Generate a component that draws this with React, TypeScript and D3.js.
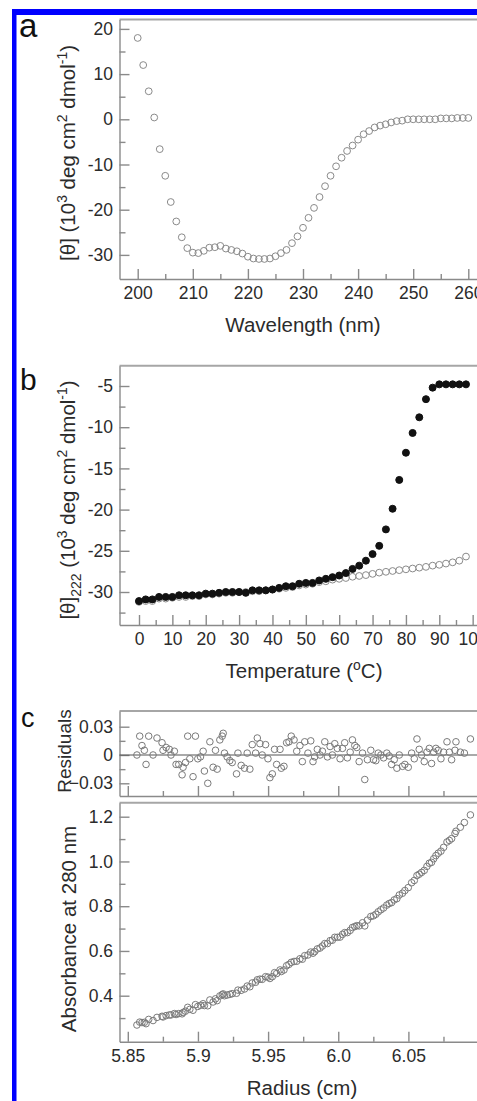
import React, { useEffect, useRef } from 'react';
import * as d3 from 'd3';

const WIDTH = 477;
const HEIGHT = 1101;
const FONT = '"Liberation Sans", Arial, Helvetica, sans-serif';
const TEXT = '#2b2b2b';
const AXIS = '#8a8a8a';

// (a) far-UV CD spectrum
const wavelength = [
  200, 201, 202, 203, 204, 205, 206, 207, 208, 209, 210, 211, 212, 213, 214, 215, 216, 217, 218, 219,
  220, 221, 222, 223, 224, 225, 226, 227, 228, 229, 230, 231, 232, 233, 234, 235, 236, 237, 238, 239,
  240, 241, 242, 243, 244, 245, 246, 247, 248, 249, 250, 251, 252, 253, 254, 255, 256, 257, 258, 259, 260,
];
const theta = [
  18.0, 12.0, 6.2, 0.4, -6.6, -12.5, -18.3, -22.6, -26.1, -28.5, -29.5, -29.6, -29.1, -28.4, -28.3, -28.0, -28.6, -28.9, -29.2, -29.7,
  -30.4, -30.8, -30.9, -30.9, -30.8, -30.3, -29.6, -28.9, -27.4, -25.9, -24.0, -21.8, -19.6, -17.2, -14.8, -12.5, -10.4, -8.5, -7.0, -5.8,
  -4.5, -3.3, -2.6, -1.8, -1.4, -1.1, -0.7, -0.4, -0.3, 0.0, 0.0, 0.0, 0.0, 0.0, 0.0, 0.2, 0.2, 0.2, 0.3, 0.3, 0.3,
];

// (b) thermal unfolding at 222 nm
const temperature = [
  0, 2, 4, 6, 8, 10, 12, 14, 16, 18, 20, 22, 24, 26, 28, 30, 32, 34, 36, 38, 40, 42, 44, 46, 48,
  50, 52, 54, 56, 58, 60, 62, 64, 66, 68, 70, 72, 74, 76, 78, 80, 82, 84, 86, 88, 90, 92, 94, 96, 98,
];
const thetaFilled = [
  -31.1, -30.9, -30.9, -30.6, -30.6, -30.6, -30.4, -30.4, -30.4, -30.4, -30.2, -30.2, -30.1, -30.0, -30.0, -30.0, -30.1, -29.8, -29.8, -29.8, -29.7, -29.5, -29.3, -29.3, -29.0,
  -28.9, -28.9, -28.6, -28.4, -28.2, -28.0, -27.7, -27.2, -26.8, -26.2, -25.4, -24.4, -22.4, -19.9, -16.4, -13.1, -10.7, -8.8, -6.6, -5.2, -4.8, -4.8, -4.8, -4.8, -4.8,
];
const thetaOpen = [
  -31.2, -31.1, -31.1, -30.8, -30.8, -30.7, -30.6, -30.6, -30.5, -30.5, -30.3, -30.3, -30.2, -30.1, -30.1, -30.0, -30.0, -29.9, -29.9, -29.8, -29.7, -29.6, -29.5, -29.4, -29.2,
  -29.1, -29.0, -28.8, -28.7, -28.5, -28.4, -28.3, -28.15, -28.05, -27.95, -27.8, -27.65, -27.55, -27.45, -27.35, -27.25, -27.15, -27.05, -26.95, -26.8, -26.7, -26.55, -26.4, -26.2, -25.7,
];

// (c) sedimentation equilibrium
const radius = [
  5.8565, 5.8585, 5.8601, 5.8618, 5.8630, 5.8649, 5.8680, 5.8708, 5.8744, 5.8751,
  5.8773, 5.8796, 5.8808, 5.8832, 5.8844, 5.8863, 5.8887, 5.8894, 5.8911, 5.8927,
  5.8942, 5.8965, 5.8982, 5.8999, 5.9018, 5.9037, 5.9046, 5.9070, 5.9085, 5.9108,
  5.9125, 5.9137, 5.9156, 5.9173, 5.9180, 5.9189, 5.9208, 5.9227, 5.9244, 5.9275,
  5.9285, 5.9308, 5.9332, 5.9351, 5.9370, 5.9387, 5.9411, 5.9423, 5.9442, 5.9458,
  5.9482, 5.9499, 5.9513, 5.9530, 5.9546, 5.9561, 5.9585, 5.9594, 5.9613, 5.9632,
  5.9649, 5.9665, 5.9685, 5.9704, 5.9727, 5.9744, 5.9761, 5.9784, 5.9804, 5.9820,
  5.9832, 5.9851, 5.9870, 5.9887, 5.9904, 5.9923, 5.9942, 5.9958, 5.9975, 5.9994,
  6.0013, 6.0030, 6.0046, 6.0065, 6.0085, 6.0101, 6.0118, 6.0132, 6.0149, 6.0173,
  6.0189, 6.0208, 6.0232, 6.0251, 6.0268, 6.0285, 6.0304, 6.0323, 6.0346, 6.0363,
  6.0380, 6.0399, 6.0418, 6.0435, 6.0458, 6.0475, 6.0499, 6.0523, 6.0542, 6.0561,
  6.0577, 6.0594, 6.0613, 6.0632, 6.0649, 6.0665, 6.0680, 6.0696, 6.0713, 6.0732,
  6.0751, 6.0775, 6.0792, 6.0808, 6.0832, 6.0839, 6.0870, 6.0899, 6.0942,
];
const residuals = [
  0.000, 0.020, 0.010, 0.005, -0.010, 0.020, 0.000, 0.018, 0.013, 0.005,
  0.008, 0.006, 0.000, 0.004, -0.010, -0.010, -0.021, -0.013, -0.008, 0.020,
  -0.004, -0.023, 0.020, -0.004, -0.002, 0.004, -0.017, -0.030, 0.014, -0.013,
  0.005, -0.015, 0.016, 0.020, 0.023, 0.002, -0.002, -0.006, -0.008, -0.020,
  0.002, -0.011, -0.014, 0.002, -0.015, 0.011, 0.002, 0.018, 0.012, 0.000,
  0.011, -0.004, -0.024, -0.020, 0.006, -0.010, 0.006, -0.014, -0.012, 0.013,
  0.014, 0.020, 0.016, 0.004, 0.010, -0.007, 0.014, 0.002, 0.015, -0.007,
  -0.002, 0.006, 0.000, 0.004, 0.014, -0.002, 0.009, 0.000, 0.012, 0.007,
  -0.004, 0.007, 0.013, -0.003, 0.003, 0.016, 0.010, 0.008, -0.007, 0.002,
  -0.026, -0.005, 0.005, -0.005, -0.006, 0.002, 0.000, -0.003, 0.002, -0.001,
  -0.010, -0.005, -0.014, 0.000, -0.012, -0.010, -0.013, 0.002, -0.004, 0.017,
  0.006, 0.000, -0.007, 0.003, 0.007, -0.009, 0.003, 0.007, 0.005, -0.004,
  0.003, 0.014, 0.003, -0.005, 0.005, 0.014, 0.003, 0.002, 0.017,
];
const absorbance = [
  0.269, 0.282, 0.280, 0.281, 0.275, 0.294, 0.289, 0.303, 0.308, 0.305,
  0.311, 0.314, 0.314, 0.320, 0.316, 0.320, 0.319, 0.325, 0.331, 0.348,
  0.339, 0.335, 0.360, 0.352, 0.357, 0.364, 0.356, 0.355, 0.381, 0.372,
  0.386, 0.378, 0.399, 0.405, 0.408, 0.400, 0.403, 0.406, 0.409, 0.411,
  0.425, 0.424, 0.430, 0.443, 0.440, 0.457, 0.460, 0.471, 0.474, 0.473,
  0.485, 0.483, 0.477, 0.485, 0.503, 0.499, 0.515, 0.508, 0.515, 0.534,
  0.540, 0.549, 0.553, 0.554, 0.565, 0.563, 0.579, 0.582, 0.595, 0.590,
  0.597, 0.609, 0.613, 0.622, 0.633, 0.633, 0.646, 0.648, 0.661, 0.661,
  0.662, 0.674, 0.682, 0.682, 0.692, 0.705, 0.709, 0.713, 0.712, 0.726,
  0.712, 0.738, 0.754, 0.757, 0.764, 0.775, 0.784, 0.792, 0.805, 0.812,
  0.816, 0.828, 0.834, 0.850, 0.858, 0.870, 0.883, 0.905, 0.915, 0.937,
  0.943, 0.951, 0.960, 0.978, 0.992, 0.996, 1.012, 1.026, 1.037, 1.046,
  1.063, 1.087, 1.094, 1.102, 1.125, 1.135, 1.153, 1.174, 1.208,
];

// tick values
const waveMajor = [200, 210, 220, 230, 240, 250, 260];
const waveMinor = [205, 215, 225, 235, 245, 255];
const thetaMajor = [-30, -20, -10, 0, 10, 20];
const thetaMinor = [-25, -15, -5, 5, 15];
const tempMajor = [0, 10, 20, 30, 40, 50, 60, 70, 80, 90, 100];
const tempMinor = [5, 15, 25, 35, 45, 55, 65, 75, 85, 95];
const meltMajor = [-30, -25, -20, -15, -10, -5];
const meltMinor = [-32.5, -27.5, -22.5, -17.5, -12.5, -7.5];
const radiusMajor = [5.85, 5.9, 5.95, 6.0, 6.05, 6.1];
const radiusLabels = ['5.85', '5.9', '5.95', '6.0', '6.05', ''];
const radiusMinor = [5.875, 5.925, 5.975, 6.025, 6.075];
const residMajor = [-0.03, 0, 0.03];
const residMinor = [-0.015, 0.015];
const absMajor = [0.4, 0.6, 0.8, 1.0, 1.2];
const absMinor = [0.3, 0.5, 0.7, 0.9, 1.1];

type Part = [string, 'n' | 'sup' | 'sub'];
type Sel = d3.Selection<any, any, any, any>;

function addParts(text: Sel, parts: Part[], size: number) {
  let shift = 0;
  parts.forEach(([t, mode]) => {
    const target = mode === 'sup' ? -0.4 * size : mode === 'sub' ? 0.28 * size : 0;
    text.append('tspan')
      .attr('dy', target - shift)
      .attr('font-size', mode === 'n' ? size : size * 0.68)
      .text(t);
    shift = target;
  });
}

function yTitle(svg: Sel, x: number, y: number, parts: Part[], size = 20.5) {
  const t = svg.append('text')
    .attr('transform', `translate(${x},${y}) rotate(-90)`)
    .attr('text-anchor', 'middle')
    .attr('font-family', FONT)
    .attr('fill', TEXT);
  addParts(t, parts, size);
}

function xTitle(svg: Sel, x: number, y: number, parts: Part[], size = 20.5) {
  const t = svg.append('text')
    .attr('x', x).attr('y', y)
    .attr('text-anchor', 'middle')
    .attr('font-family', FONT)
    .attr('fill', TEXT);
  addParts(t, parts, size);
}

type Frame = {
  x: d3.ScaleLinear<number, number>;
  y: d3.ScaleLinear<number, number>;
  xMajor: number[]; xMinor: number[];
  yMajor: number[]; yMinor: number[];
  xFormat: (d: any, i: number) => string;
  yFormat: (d: any, i: number) => string;
};

function drawFrame(svg: Sel, f: Frame) {
  const g = svg.append('g');
  const [left, right] = f.x.range();
  const [bottom, top] = f.y.range();

  g.append('line')
    .attr('x1', left).attr('x2', right + 10)
    .attr('y1', top).attr('y2', top)
    .attr('stroke', '#a6a6a6').attr('stroke-width', 2);

  g.append('g').attr('transform', `translate(0,${bottom})`)
    .call(d3.axisBottom(f.x).tickValues(f.xMajor).tickSizeInner(-10).tickSizeOuter(0).tickPadding(8).tickFormat(f.xFormat));
  g.append('g').attr('transform', `translate(0,${bottom})`)
    .call(d3.axisBottom(f.x).tickValues(f.xMinor).tickSizeInner(-5).tickSizeOuter(0).tickFormat(() => ''))
    .call(a => a.select('.domain').remove());
  g.append('g').attr('transform', `translate(${left},0)`)
    .call(d3.axisLeft(f.y).tickValues(f.yMajor).tickSizeInner(-10).tickSizeOuter(0).tickPadding(6.5).tickFormat(f.yFormat));
  g.append('g').attr('transform', `translate(${left},0)`)
    .call(d3.axisLeft(f.y).tickValues(f.yMinor).tickSizeInner(-6).tickSizeOuter(0).tickFormat(() => ''))
    .call(a => a.select('.domain').remove());

  g.selectAll('.domain, .tick line').attr('stroke', AXIS).attr('stroke-width', 1.4);
  g.selectAll('.tick text')
    .attr('fill', TEXT)
    .attr('font-size', 17.5)
    .attr('font-family', FONT);
  return g;
}

function circles(svg: Sel, xs: number[], ys: number[], x: any, y: any, fill: string, stroke: string, r = 3.4) {
  svg.append('g')
    .selectAll('circle')
    .data(d3.zip(xs, ys))
    .join('circle')
    .attr('cx', d => x(d[0]))
    .attr('cy', d => y(d[1]))
    .attr('r', r)
    .attr('fill', fill)
    .attr('stroke', stroke)
    .attr('stroke-width', 1);
}

function letter(svg: Sel, t: string, x: number, y: number, size: number) {
  svg.append('text').attr('x', x).attr('y', y)
    .attr('font-family', FONT).attr('font-size', size).attr('fill', '#111').text(t);
}

const App = () => {
  const ref = useRef<SVGSVGElement>(null);

  useEffect(() => {
    const svg = d3.select(ref.current);
    svg.selectAll('*').remove();

    svg.append('rect').attr('width', WIDTH).attr('height', HEIGHT).attr('fill', '#fff');

    // blue page border
    svg.append('rect').attr('x', 12).attr('y', 9).attr('width', WIDTH).attr('height', 6).attr('fill', '#0000ff');
    svg.append('rect').attr('x', 12).attr('y', 9).attr('width', 4.5).attr('height', HEIGHT).attr('fill', '#0000ff');

    const left = 119.5;
    const right = 486;

    // ---- panel a ----
    const xa = d3.scaleLinear().domain([200, 260]).range([137.7, 468.3]);
    xa.domain([xa.invert(left), xa.invert(right)]).range([left, right]);
    const ya = d3.scaleLinear().domain([0, -30]).range([119.3, 254.9]);
    ya.domain([ya.invert(279), ya.invert(19.5)]).range([279, 19.5]);
    drawFrame(svg, {
      x: xa, y: ya, xMajor: waveMajor, xMinor: waveMinor, yMajor: thetaMajor, yMinor: thetaMinor,
      xFormat: d => String(d), yFormat: d => String(d),
    });
    circles(svg, wavelength, theta, xa, ya, 'none', '#8a8a8a');
    yTitle(svg, 75, 153, [['[θ] (10', 'n'], ['3', 'sup'], [' deg cm', 'n'], ['2', 'sup'], [' dmol', 'n'], ['-1', 'sup'], [')', 'n']]);
    xTitle(svg, 303, 332, [['Wavelength (nm)', 'n']]);
    letter(svg, 'a', 19, 37, 33);

    // ---- panel b ----
    const xb = d3.scaleLinear().domain([0, 90]).range([139, 439.3]);
    xb.domain([xb.invert(left), xb.invert(right)]).range([left, right]);
    const yb = d3.scaleLinear().domain([-5, -30]).range([386, 592]);
    yb.domain([yb.invert(625), yb.invert(365.7)]).range([625, 365.7]);
    drawFrame(svg, {
      x: xb, y: yb, xMajor: tempMajor, xMinor: tempMinor, yMajor: meltMajor, yMinor: meltMinor,
      xFormat: d => String(d), yFormat: d => String(d),
    });
    circles(svg, temperature, thetaOpen, xb, yb, '#fff', '#8a8a8a');
    circles(svg, temperature, thetaFilled, xb, yb, '#111', '#111', 3.5);
    yTitle(svg, 75, 500, [['[θ]', 'n'], ['222', 'sub'], [' (10', 'n'], ['3', 'sup'], [' deg cm', 'n'], ['2', 'sup'], [' dmol', 'n'], ['-1', 'sup'], [')', 'n']]);
    xTitle(svg, 304, 678, [['Temperature (', 'n'], ['o', 'sup'], ['C)', 'n']]);
    letter(svg, 'b', 20, 390, 30);

    // ---- panel c ----
    const xc = d3.scaleLinear().domain([5.85, 6.05]).range([127.8, 408.4]);
    xc.domain([xc.invert(left), xc.invert(right)]).range([left, right]);

    const yr = d3.scaleLinear().domain([0, 0.03]).range([755, 726.7]);
    yr.domain([yr.invert(796), yr.invert(711)]).range([796, 711]);
    drawFrame(svg, {
      x: xc, y: yr, xMajor: radiusMajor, xMinor: radiusMinor, yMajor: residMajor, yMinor: residMinor,
      xFormat: () => '', yFormat: d => (d === 0 ? '0' : d3.format('.2f')(d)),
    });
    svg.append('line')
      .attr('x1', left).attr('x2', right)
      .attr('y1', yr(0)).attr('y2', yr(0))
      .attr('stroke', '#555').attr('stroke-width', 1.2);
    circles(svg, radius, residuals, xc, yr, 'none', '#7a7a7a', 3.3);
    yTitle(svg, 71, 751, [['Residuals', 'n']], 19);

    const yc = d3.scaleLinear().domain([0.4, 1.2]).range([995.7, 816.7]);
    yc.domain([yc.invert(1041.7), yc.invert(802.7)]).range([1041.7, 802.7]);
    drawFrame(svg, {
      x: xc, y: yc, xMajor: radiusMajor, xMinor: radiusMinor, yMajor: absMajor, yMinor: absMinor,
      xFormat: (_d, i) => radiusLabels[i], yFormat: d => d3.format('.1f')(d),
    });
    circles(svg, radius, absorbance, xc, yc, 'none', '#7a7a7a', 3.3);
    yTitle(svg, 76, 929, [['Absorbance at 280 nm', 'n']]);
    xTitle(svg, 302, 1095, [['Radius (cm)', 'n']]);
    letter(svg, 'c', 21, 727, 27);
  }, []);

  return (
    <svg
      ref={ref}
      width={WIDTH}
      height={HEIGHT}
      style={{ position: 'absolute', left: 0, top: 0, display: 'block' }}
    />
  );
};

export default App;
